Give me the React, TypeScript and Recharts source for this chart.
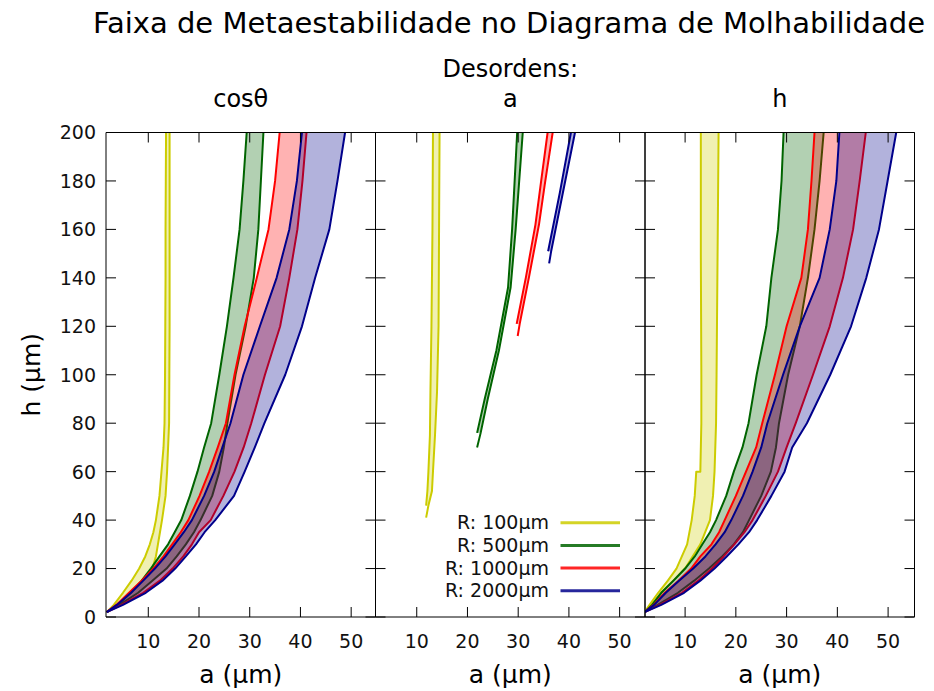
import React from 'react';
import { ComposedChart, Area, Line, XAxis, YAxis } from 'recharts';

const W = 934;
const H = 691;
const PLOT_TOP = 132.5;
const PLOT_BOTTOM = 617;
const FONT = '"DejaVu Sans", Verdana, sans-serif';
const INK = '#000';
const TICK_LEN = 10;

const titleText = 'Faixa de Metaestabilidade no Diagrama de Molhabilidade';
const groupTitle = 'Desordens:';
const panelTitles = ['cosθ', 'a', 'h'];
const xLabel = 'a (µm)';
const yLabel = 'h (µm)';
const seriesNames = ['R: 100µm', 'R: 500µm', 'R: 1000µm', 'R: 2000µm'];
const lineColors = ['#cccc00', '#006400', '#ff0000', '#00008b'];
const xTicks = [10, 20, 30, 40, 50];
const yTicks = [0, 20, 40, 60, 80, 100, 120, 140, 160, 180, 200];

const PANELS = [
  { left: 106, right: 375.5, domain: [1.66, 54.8] },
  { left: 375.5, right: 645, domain: [1.87, 55.0] },
  { left: 645, right: 914.5, domain: [2.1, 55.2] },
];

// ---- Panel 1 : desordem em cos(theta)
const p1H = [2, 5, 10, 15, 20, 25, 30, 35, 40, 50, 60, 70, 80, 100, 120, 140, 160, 180, 200];
const p1YellowLo = [1.8, 3.2, 5.0, 6.7, 8.2, 9.4, 10.3, 11.0, 11.5, 12.2, 12.6, 13.0, 13.2, 13.3, 13.35, 13.4, 13.4, 13.45, 13.5];
const p1YellowHi = [1.8, 3.8, 6.6, 8.8, 10.8, 11.5, 11.9, 12.3, 12.7, 13.4, 13.7, 13.9, 14.1, 14.15, 14.2, 14.2, 14.2, 14.2, 14.2];
const p1GreenLo = [1.8, 4.0, 6.5, 8.7, 10.5, 12.2, 13.9, 15.2, 16.5, 18.2, 19.7, 21.0, 22.4, 24.0, 25.5, 26.8, 28.0, 28.75, 29.4];
const p1GreenHi = [1.8, 4.3, 8.0, 10.8, 13.6, 15.6, 17.4, 19.0, 20.3, 22.6, 24.0, 24.9, 25.6, 27.2, 29.2, 30.8, 31.7, 32.2, 32.7];
const p1RedLo = [1.8, 3.7, 6.2, 8.7, 11.0, 13.0, 14.7, 16.4, 17.9, 20.1, 22.0, 23.7, 25.3, 27.0, 29.0, 31.4, 33.7, 35.0, 35.9];
const p1RedHi = [1.8, 4.7, 9.0, 12.3, 14.8, 16.9, 18.6, 20.0, 22.3, 24.8, 27.0, 28.8, 30.3, 33.0, 36.0, 37.8, 39.4, 40.4, 41.2];
const p1BlueLo = [1.8, 3.8, 6.6, 9.0, 11.3, 13.4, 15.2, 17.0, 18.6, 21.0, 23.0, 24.6, 26.2, 28.75, 32.0, 35.3, 37.8, 39.3, 40.3];
const p1BlueHi = [1.8, 5.0, 9.5, 12.8, 15.3, 17.4, 19.4, 21.1, 23.2, 26.9, 29.0, 31.0, 32.9, 37.0, 40.3, 42.9, 45.7, 47.3, 48.8];

// ---- Panel 2 : desordem em a
const p2YellowH = [41, 46, 52, 60, 75, 93, 120, 160, 200];
const p2YellowLo = [null, 11.85, 12.1, 12.3, 12.6, 12.7, 12.9, 13.1, 13.2];
const p2YellowHi = [11.85, 12.3, 13.0, 13.2, 13.6, 14.0, 14.3, 14.4, 14.5];
const p2GreenH = [70, 76, 90, 110, 136, 160, 200];
const p2GreenLo = [null, 21.9, 23.4, 25.7, 28.0, 28.8, 29.8];
const p2GreenHi = [21.9, 22.6, 24.0, 26.2, 28.5, 29.5, 30.9];
const p2RedH = [116, 121, 140, 162, 178, 200];
const p2RedLo = [null, 29.7, 31.5, 33.4, 34.4, 35.8];
const p2RedHi = [29.9, 30.3, 32.1, 34.1, 35.2, 36.8];
const p2BlueH = [146, 151, 175, 200];
const p2BlueLo = [null, 35.9, 38.2, 40.4];
const p2BlueHi = [36.1, 36.5, 38.8, 41.2];

// ---- Panel 3 : desordem em h
const p3H = [2, 5, 10, 15, 20, 25, 30, 35, 40, 50, 60, 70, 80, 100, 120, 140, 160, 180, 200];
const p3YellowH = [2, 5, 10, 15, 20, 30, 40, 50, 60, 60, 80, 100, 150, 200];
const p3YellowLo = [2.0, 3.0, 4.7, 6.6, 8.3, 10.4, 11.3, 11.9, 12.2, 13.0, 13.2, 13.2, 13.1, 13.1];
const p3YellowHi = [2.0, 3.4, 5.3, 7.7, 10.0, 13.0, 14.9, 15.5, 15.8, 15.8, 16.1, 16.2, 16.4, 16.6];
const p3GreenLo = [2.0, 3.5, 5.3, 7.7, 10.0, 11.9, 13.4, 14.9, 16.1, 18.1, 19.6, 21.3, 22.5, 24.1, 26.0, 27.0, 28.3, 29.0, 29.4];
const p3GreenHi = [2.0, 4.6, 8.6, 11.8, 14.7, 17.3, 19.6, 21.4, 22.6, 25.0, 26.9, 27.9, 28.5, 30.3, 32.6, 34.2, 35.5, 36.5, 37.3];
const p3RedLo = [2.0, 3.8, 6.0, 8.7, 11.2, 13.0, 15.2, 16.7, 17.8, 20.0, 22.0, 24.0, 25.2, 27.7, 30.0, 32.9, 34.2, 34.9, 35.5];
const p3RedHi = [2.0, 5.0, 9.4, 12.6, 15.3, 17.6, 19.7, 21.7, 23.3, 25.9, 28.3, 30.0, 31.8, 35.2, 38.5, 41.1, 43.1, 44.4, 45.6];
const p3BlueLo = [2.0, 3.9, 6.2, 8.8, 11.6, 14.0, 16.0, 17.8, 19.1, 21.4, 23.3, 25.0, 26.2, 29.3, 32.6, 36.5, 38.5, 39.8, 40.4];
const p3BlueHi = [2.0, 5.3, 9.8, 13.0, 15.8, 18.2, 20.5, 22.6, 24.2, 27.0, 29.6, 31.1, 34.0, 38.6, 42.7, 45.7, 48.2, 49.9, 51.6];

type Row = { h: number; lo: number | null; hi: number | null; band: [number, number] | null };

function makeRows(h: number[], lo: (number | null)[], hi: (number | null)[]): Row[] {
  return h.map((v, i) => ({
    h: v,
    lo: lo[i],
    hi: hi[i],
    band: lo[i] != null && hi[i] != null ? [lo[i] as number, hi[i] as number] : null,
  }));
}

const panel1 = [
  makeRows(p1H, p1YellowLo, p1YellowHi),
  makeRows(p1H, p1GreenLo, p1GreenHi),
  makeRows(p1H, p1RedLo, p1RedHi),
  makeRows(p1H, p1BlueLo, p1BlueHi),
];
const panel2 = [
  makeRows(p2YellowH, p2YellowLo, p2YellowHi),
  makeRows(p2GreenH, p2GreenLo, p2GreenHi),
  makeRows(p2RedH, p2RedLo, p2RedHi),
  makeRows(p2BlueH, p2BlueLo, p2BlueHi),
];
const panel3 = [
  makeRows(p3YellowH, p3YellowLo, p3YellowHi),
  makeRows(p3H, p3GreenLo, p3GreenHi),
  makeRows(p3H, p3RedLo, p3RedHi),
  makeRows(p3H, p3BlueLo, p3BlueHi),
];

const panelData = [panel1, panel2, panel3];

// Inward gnuplot-style ticks (line + optional label)
function makeTick(side: 'bottom' | 'top' | 'left' | 'right', showLabel: boolean) {
  return (props: any) => {
    const { x, y, payload } = props;
    let line;
    if (side === 'bottom') line = <line x1={x} x2={x} y1={y} y2={y - TICK_LEN} stroke={INK} strokeWidth={1} />;
    else if (side === 'top') line = <line x1={x} x2={x} y1={y} y2={y + TICK_LEN} stroke={INK} strokeWidth={1} />;
    else if (side === 'left') line = <line x1={x} x2={x + TICK_LEN} y1={y} y2={y} stroke={INK} strokeWidth={1} />;
    else line = <line x1={x} x2={x - TICK_LEN} y1={y} y2={y} stroke={INK} strokeWidth={1} />;
    let label = null;
    if (showLabel && side === 'bottom') {
      label = (
        <text x={x} y={y + 31} textAnchor="middle" fontSize={19} fontFamily={FONT} fill="#111">
          {payload.value}
        </text>
      );
    } else if (showLabel && side === 'left') {
      label = (
        <text x={x - 10} y={y + 6.9} textAnchor="end" fontSize={19} fontFamily={FONT} fill="#111">
          {payload.value}
        </text>
      );
    }
    return (
      <g>
        {line}
        {label}
      </g>
    );
  };
}

function Panel({ index }: { index: number }) {
  const p = PANELS[index];
  const series = panelData[index];
  const separateLines = index === 1;
  const axisLine = { stroke: INK, strokeWidth: 1 };
  return (
    <div style={{ position: 'absolute', left: 0, top: 0 }}>
      <ComposedChart
        layout="vertical"
        width={W}
        height={H}
        margin={{ top: PLOT_TOP - 1, bottom: H - PLOT_BOTTOM - 1, left: p.left - 1, right: W - p.right - 1 }}
      >
        <XAxis
          xAxisId="b"
          type="number"
          orientation="bottom"
          domain={p.domain}
          allowDataOverflow
          ticks={xTicks}
          interval={0}
          height={1}
          tickSize={0}
          tickMargin={0}
          axisLine={axisLine}
          tickLine={false}
          tick={makeTick('bottom', true)}
        />
        <XAxis
          xAxisId="t"
          type="number"
          orientation="top"
          domain={p.domain}
          allowDataOverflow
          ticks={xTicks}
          interval={0}
          height={1}
          tickSize={0}
          tickMargin={0}
          axisLine={axisLine}
          tickLine={false}
          tick={makeTick('top', false)}
        />
        <YAxis
          yAxisId="l"
          type="number"
          dataKey="h"
          orientation="left"
          reversed
          domain={[0, 200]}
          allowDataOverflow
          ticks={yTicks}
          interval={0}
          width={1}
          tickSize={0}
          tickMargin={0}
          axisLine={axisLine}
          tickLine={false}
          tick={makeTick('left', index === 0)}
        />
        <YAxis
          yAxisId="r"
          type="number"
          dataKey="h"
          orientation="right"
          reversed
          domain={[0, 200]}
          allowDataOverflow
          ticks={yTicks}
          interval={0}
          width={1}
          tickSize={0}
          tickMargin={0}
          axisLine={axisLine}
          tickLine={false}
          tick={makeTick('right', false)}
        />
        {series.map((rows, i) => (
          <Area
            key={`a${i}`}
            xAxisId="b"
            yAxisId="l"
            data={rows.filter((r) => r.band != null)}
            dataKey="band"
            type="linear"
            fill={lineColors[i]}
            fillOpacity={0.3}
            stroke={separateLines ? 'none' : lineColors[i]}
            strokeWidth={2}
            strokeLinejoin="round"
            dot={false}
            activeDot={false}
            isAnimationActive={false}
          />
        ))}
        {separateLines &&
          series.map((rows, i) => (
            <Line
              key={`lo${i}`}
              xAxisId="b"
              yAxisId="l"
              data={rows}
              dataKey="lo"
              type="linear"
              stroke={lineColors[i]}
              strokeWidth={2}
              dot={false}
              activeDot={false}
              isAnimationActive={false}
            />
          ))}
        {separateLines &&
          series.map((rows, i) => (
            <Line
              key={`hi${i}`}
              xAxisId="b"
              yAxisId="l"
              data={rows}
              dataKey="hi"
              type="linear"
              stroke={lineColors[i]}
              strokeWidth={2}
              dot={false}
              activeDot={false}
              isAnimationActive={false}
            />
          ))}
      </ComposedChart>
    </div>
  );
}

export default function App() {
  const centers = PANELS.map((p) => (p.left + p.right) / 2);
  const legendTop = 522.7;
  const legendStep = 22.7;
  return (
    <div style={{ position: 'absolute', left: 0, top: 0, width: W, height: H, background: '#fff', fontFamily: FONT }}>
      {PANELS.map((_, i) => (
        <Panel key={i} index={i} />
      ))}
      <svg
        width={W}
        height={H}
        style={{ position: 'absolute', left: 0, top: 0, pointerEvents: 'none' }}
        fontFamily={FONT}
      >
        <text x={509} y={33} fontSize={29} textAnchor="middle" fill="#000">
          {titleText}
        </text>
        <text x={centers[1]} y={77} fontSize={24} textAnchor="middle" fill="#000">
          {groupTitle}
        </text>
        {panelTitles.map((t, i) => (
          <text key={t} x={centers[i]} y={107} fontSize={24} textAnchor="middle" fill="#000">
            {t}
          </text>
        ))}
        {centers.map((c, i) => (
          <text key={`xl${i}`} x={c} y={683} fontSize={25} textAnchor="middle" fill="#000">
            {xLabel}
          </text>
        ))}
        <text
          x={0}
          y={0}
          fontSize={25}
          textAnchor="middle"
          fill="#000"
          transform={`translate(40, ${(PLOT_TOP + PLOT_BOTTOM) / 2}) rotate(-90)`}
        >
          {yLabel}
        </text>
        {seriesNames.map((n, i) => {
          const y = legendTop + i * legendStep;
          return (
            <g key={n}>
              <text x={549} y={y + 6.5} fontSize={19} textAnchor="end" fill="#111">
                {n}
              </text>
              <line x1={560.5} x2={620} y1={y} y2={y} stroke={lineColors[i]} strokeOpacity={0.85} strokeWidth={3} />
            </g>
          );
        })}
      </svg>
    </div>
  );
}
